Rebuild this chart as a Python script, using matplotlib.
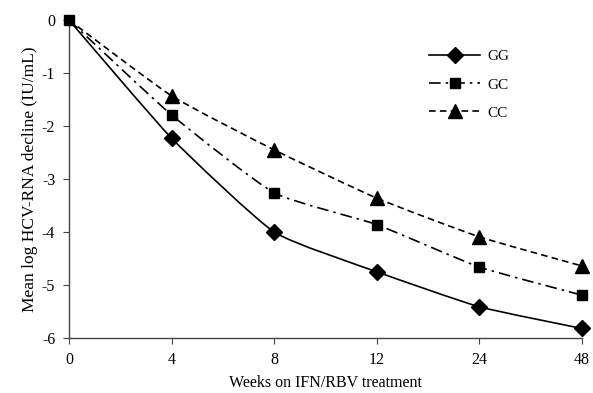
import matplotlib
matplotlib.use("Agg")
import matplotlib.pyplot as plt
from matplotlib.path import Path
from matplotlib.patches import PathPatch
from matplotlib.lines import Line2D

weeks = ["0", "4", "8", "12", "24", "48"]
gg = [0, -2.23, -4.0, -4.75, -5.41, -5.82]
gc = [0, -1.79, -3.26, -3.86, -4.66, -5.19]
cc = [0, -1.43, -2.45, -3.36, -4.09, -4.64]

plt.rcParams['font.family'] = ['Liberation Serif', 'DejaVu Serif']
plt.rcParams['axes.unicode_minus'] = False


def smooth_path(xs, ys, k=1 / 12):
    pts = list(zip(xs, ys))
    n = len(pts)
    verts = [pts[0]]
    codes = [Path.MOVETO]
    for i in range(n - 1):
        p0 = pts[i - 1] if i > 0 else pts[i]
        p1 = pts[i]
        p2 = pts[i + 1]
        p3 = pts[i + 2] if i + 2 < n else pts[i + 1]
        c1 = (p1[0] + (p2[0] - p0[0]) * k, p1[1] + (p2[1] - p0[1]) * k)
        c2 = (p2[0] - (p3[0] - p1[0]) * k, p2[1] - (p3[1] - p1[1]) * k)
        verts += [c1, c2, p2]
        codes += [Path.CURVE4] * 3
    return Path(verts, codes)


fig = plt.figure(figsize=(5.93, 3.93), dpi=100)
ax = fig.add_axes([0.1164, 0.140, 0.8646, 0.809])
x = list(range(len(weeks)))

series = [
    (gg, 'GG', '-', 'D', 8.5),
    (gc, 'GC', (0, (7, 3, 1.5, 3)), 's', 7),
    (cc, 'CC', (0, (4, 2.5)), '^', 10),
]
handles = []
for ys, lab, ls, mk, ms in series:
    ax.add_patch(PathPatch(smooth_path(x, ys), fill=False, edgecolor='black',
                           linestyle=ls, lw=1.2, clip_on=False))
    start = 0 if mk == 's' else 1
    ax.plot(x[start:], ys[start:], linestyle='none', marker=mk,
            markersize=(ms if True else ms), color='black', clip_on=False, zorder=3)
    handles.append(Line2D([], [], color='black', linestyle=ls, lw=1.2,
                          marker=mk, markersize=ms, label=lab))

ax.set_xlim(0, 5)
ax.set_ylim(-6, 0)
ax.set_xticks(x)
ax.set_xticklabels(weeks)
ax.set_yticks(range(-6, 1))
ax.spines['top'].set_visible(False)
ax.spines['right'].set_visible(False)
for s in ['left', 'bottom']:
    ax.spines[s].set_color('#444444')
    ax.spines[s].set_linewidth(1.0)
ax.tick_params(axis='both', direction='out', length=4, color='#444444', labelsize=11.5, pad=6)
ax.set_xlabel('Weeks on IFN/RBV treatment', fontsize=11.5, labelpad=5)
ax.set_ylabel('Mean log HCV-RNA decline (IU/mL)', fontsize=12.5, labelpad=3)

ax.legend(handles=handles, loc='upper left', bbox_to_anchor=(0.676, 0.95), frameon=False,
          fontsize=11, handlelength=3.3, labelspacing=0.95, handletextpad=0.5)
fig.savefig('out.png', dpi=100)
